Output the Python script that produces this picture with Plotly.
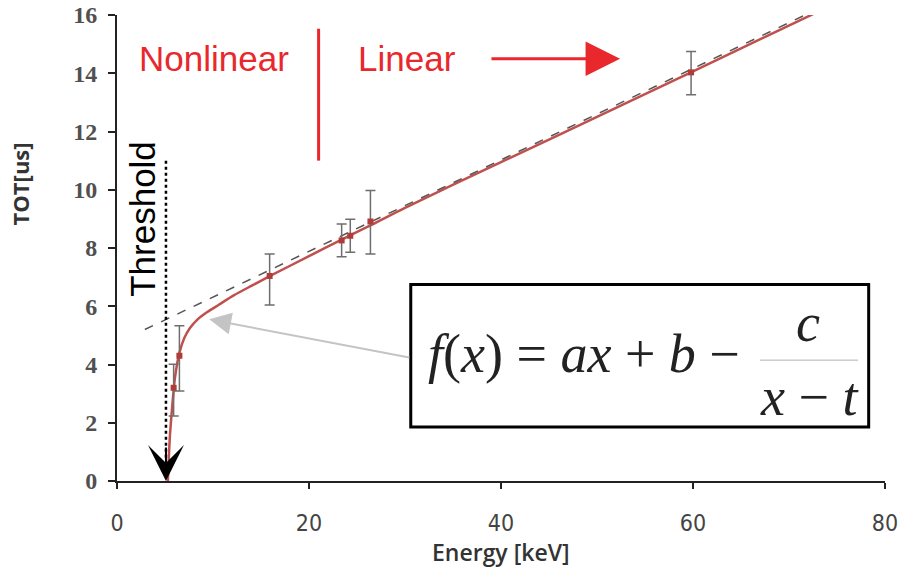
import plotly.graph_objects as go

# Measured points (Energy [keV], TOT [us]) with asymmetric error bars
meas_x = [5.9, 6.5, 15.9, 23.4, 24.3, 26.4, 59.8]
meas_y = [3.2, 4.3, 7.04, 8.26, 8.42, 8.91, 14.03]
err_up = [0.81, 1.03, 0.75, 0.56, 0.57, 1.06, 0.72]
err_dn = [0.97, 1.21, 1.0, 0.56, 0.57, 1.12, 0.77]

# Fitted curve
curve_x = [5.3, 5.4, 5.52, 5.8, 6.04, 6.5, 7.0, 7.6, 8.4, 9.4, 10.6, 12.2, 14, 16, 20, 23.4, 26.4, 30, 40, 50, 59.9, 72.5]
curve_y = [0.0, 0.8, 1.6, 2.75, 3.55, 4.4, 4.9, 5.25, 5.55, 5.8, 6.05, 6.38, 6.7, 7.05, 7.72, 8.29, 8.78, 9.38, 10.95, 12.5, 14.05, 16.03]

# Linear asymptote (dashed)
asym_x = [2.9, 72.0]
asym_y = [5.2, 16.05]

x_ticks = [0, 20, 40, 60, 80]
y_ticks = [0, 2, 4, 6, 8, 10, 12, 14, 16]

RED = "#e8282d"
CURVE = "#c0504d"

fig = go.Figure()
fig.add_trace(go.Scatter(x=curve_x, y=curve_y, mode="lines",
                         line=dict(color=CURVE, width=2.5, shape="spline", smoothing=0.6),
                         hoverinfo="skip"))
fig.add_trace(go.Scatter(x=asym_x, y=asym_y, mode="lines",
                         line=dict(color="#555555", width=1.5, dash="dash"),
                         hoverinfo="skip"))
fig.add_trace(go.Scatter(x=meas_x, y=meas_y, mode="markers",
                         marker=dict(symbol="square", size=6, color="#b03c3a"),
                         error_y=dict(type="data", symmetric=False, array=err_up,
                                      arrayminus=err_dn, color="#6e6e6e",
                                      thickness=1.5, width=5)))

shapes = [
    # threshold dotted line
    dict(type="line", xref="x", yref="y", x0=5.1, x1=5.1, y0=11.0, y1=0.7,
         line=dict(color="black", width=2.5, dash="dot")),
    # red separator
    dict(type="line", xref="x", yref="y", x0=21.0, x1=21.0, y0=15.53, y1=11.0,
         line=dict(color=RED, width=3)),
    # formula box
    dict(type="rect", xref="x", yref="y", x0=30.6, x1=78.3, y0=1.85, y1=6.75,
         line=dict(color="black", width=3), fillcolor="white", layer="above"),
    # fraction bar
    dict(type="line", xref="x", yref="y", x0=66.98, x1=77.2, y0=4.15, y1=4.15,
         line=dict(color="#b0b0b0", width=1), layer="above"),
]

serif = "Liberation Serif, Times New Roman, serif"
sans = "Liberation Sans, Arial, sans-serif"

annotations = [
    dict(x=10.1, y=14.5, xref="x", yref="y", text="Nonlinear", showarrow=False,
         font=dict(family=sans, size=35, color=RED)),
    dict(x=30.2, y=14.5, xref="x", yref="y", text="Linear", showarrow=False,
         font=dict(family=sans, size=35, color=RED)),
    # red arrow
    dict(x=52.4, y=14.5, ax=38.85, ay=14.5, xref="x", yref="y", axref="x", ayref="y",
         text="", showarrow=True, arrowhead=2, arrowsize=2.3, arrowwidth=3, arrowcolor=RED),
    # Threshold label
    dict(x=2.7, y=9.0, xref="x", yref="y", text="Threshold", showarrow=False, textangle=-90,
         font=dict(family=sans, size=35, color="black")),
    # threshold arrow head
    dict(x=5.1, y=0.0, ax=5.1, ay=1.2, xref="x", yref="y", axref="x", ayref="y",
         text="", showarrow=True, arrowhead=3, arrowsize=3, arrowwidth=2, arrowcolor="black"),
    # grey pointer arrow
    dict(x=9.6, y=5.55, ax=30.6, ay=4.23, xref="x", yref="y", axref="x", ayref="y",
         text="", showarrow=True, arrowhead=2, arrowsize=2.2, arrowwidth=2, arrowcolor="#c4c4c4"),
    # formula
    dict(x=48.6, y=4.35, xref="x", yref="y", showarrow=False,
         text="<i>f</i>(<i>x</i>) = <i>ax</i> + <i>b</i> \u2212",
         font=dict(family=serif, size=54, color="#222222")),
    dict(x=71.98, y=5.44, xref="x", yref="y", showarrow=False, text="<i>c</i>",
         font=dict(family=serif, size=54, color="#222222")),
    dict(x=72.1, y=2.87, xref="x", yref="y", showarrow=False,
         text="<i>x</i> \u2212 <i>t</i>",
         font=dict(family=serif, size=54, color="#222222")),
    # axis titles
    dict(x=0.5, y=-0.152, xref="paper", yref="paper", text="Energy [keV]", showarrow=False,
         xanchor="center", yanchor="middle",
         font=dict(family="Open Sans, sans-serif", size=23, color="#333333", weight=600)),
    dict(x=-0.126, y=0.637, xref="paper", yref="paper", text="<b>TOT[us]</b>", showarrow=False,
         xanchor="center", yanchor="middle", textangle=-90,
         font=dict(family="Open Sans, sans-serif", size=22, color="#333333")),
]

fig.update_layout(
    width=906, height=567,
    margin=dict(l=117, r=21, t=15, b=86, autoexpand=False),
    paper_bgcolor="white", plot_bgcolor="white",
    showlegend=False,
    shapes=shapes,
    annotations=annotations,
    xaxis=dict(range=[0, 80], tickvals=x_ticks, showgrid=False, zeroline=False,
               automargin=False,
               showline=True, linecolor="#222222", linewidth=2,
               ticks="outside", ticklen=6, tickwidth=2, tickcolor="#222222",
               ticklabelstandoff=14,
               tickfont=dict(family="Liberation Sans Narrow, DejaVu Sans Condensed, Liberation Sans",
                             size=23, color="#444444")),
    yaxis=dict(range=[0, 16], tickvals=y_ticks, showgrid=False, zeroline=False,
               automargin=False,
               showline=True, linecolor="#222222", linewidth=2,
               ticks="outside", ticklen=7, tickwidth=2, tickcolor="#222222",
               ticklabelstandoff=6,
               tickfont=dict(family=serif, size=24, color="#505050", weight="bold")),
)

fig.write_html("out.html")
